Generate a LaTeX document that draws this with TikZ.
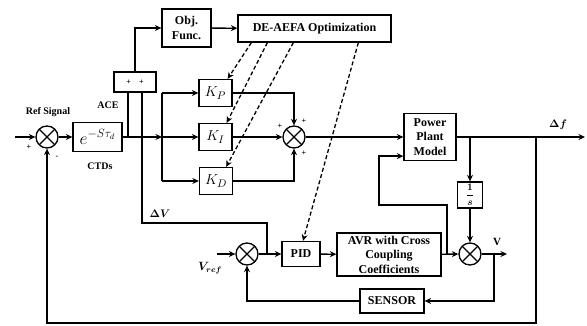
\documentclass[tikz,border=0pt]{standalone}
\usepackage{fontspec}
\setmainfont{Liberation Serif}
\usepackage{amsmath,bm}
\usetikzlibrary{arrows.meta}
\begin{document}
\begin{tikzpicture}[x=1pt,y=-1pt,
 line width=1.3pt,
 >={Stealth[length=6.5pt,width=6pt]},
 blk/.style={draw, inner sep=0pt, align=center, font=\fontsize{12}{14.5}\selectfont\bfseries},
 kbox/.style={draw, inner sep=0pt, minimum width=33pt, minimum height=27pt, font=\fontsize{15}{18}\selectfont},
 sumj/.style={circle, draw, minimum size=22pt, inner sep=0pt,
   path picture={\draw[line width=1.3pt] (path picture bounding box.north west) -- (path picture bounding box.south east)
     (path picture bounding box.north east) -- (path picture bounding box.south west);}},
 lbl/.style={font=\fontsize{10}{12}\selectfont\bfseries, inner sep=0pt},
 sg/.style={font=\fontsize{8}{9}\selectfont\bfseries, inner sep=0pt},
 dsh/.style={->, dash pattern=on 4pt off 2.5pt},
]
\useasboundingbox (0,0) rectangle (587,326);

% blocks
\node[sumj] (s1) at (47,137) {};
\node[blk, minimum width=49pt, minimum height=29pt, font=\fontsize{17}{18}\selectfont] (ctd) at (97.5,137) {$e^{-S\tau_d}$};
\node[blk, minimum width=42pt, minimum height=20pt, font=\fontsize{8}{9}\selectfont\bfseries] (pp) at (135,82) {+\hspace{8pt}+};
\node[blk, minimum width=49pt, minimum height=38pt] (obj) at (186.5,28) {Obj.\\Func.};
\node[blk, minimum width=153pt, minimum height=27pt] (de) at (314.5,28.5) {DE-AEFA Optimization};
\node[kbox] (kp) at (215.5,93) {$K_P$};
\node[kbox] (ki) at (215.5,137) {$K_I$};
\node[kbox] (kd) at (216,181) {$K_D$};
\node[sumj] (s2) at (294,137) {};
\node[blk, minimum width=52pt, minimum height=47pt] (pw) at (430,137) {Power\\Plant\\Model};
\node[blk, minimum width=25pt, minimum height=26pt, font=\fontsize{10}{12}\selectfont] (inv) at (470,195) {$\bm{\dfrac{1}{s}}$};
\node[sumj] (sV) at (470,254) {};
\node[blk, minimum width=104pt, minimum height=43pt] (avr) at (389,254.5) {AVR with Cross\\Coupling\\Coefficients};
\node[blk, minimum width=38pt, minimum height=25pt] (pid) at (301,254) {PID};
\node[sumj] (sR) at (247,254) {};
\node[blk, minimum width=64pt, minimum height=24pt] (sen) at (392,301) {SENSOR};

% coordinates
\coordinate (in1) at (15,137);
\coordinate (sp) at (162,137);
\coordinate (dv1) at (142,223);
\coordinate (dv2) at (267,223);
\coordinate (out) at (585,137);
\coordinate (b1) at (470,137);
\coordinate (b2) at (536,137);
\coordinate (b3) at (536,323);
\coordinate (j) at (447,254);
\coordinate (j2) at (379,205);
\coordinate (pin) at ([yshift=5pt]pw.south west);
\coordinate (vo) at (507,254);
\coordinate (fb) at (494,254);
\coordinate (fb2) at (494,301);
\coordinate (vr) at (217,254);

% connectors
\draw[->] (in1) -- (s1);
\draw[->] (s1) -- (ctd);
\draw[->] (ctd) -- (sp);
\draw (sp |- kp) -- (sp |- kd);
\draw[->] (sp |- kp) -- (kp);
\draw[->] (sp) -- (ki);
\draw[->] (sp |- kd) -- (kd);
\draw ([xshift=-7pt]pp.south) -- ([xshift=-7pt]pp.south |- sp);
\draw ([xshift=7pt]pp.south) -- (dv1) -- (dv2) -- (dv2 |- sR);
\draw[->] (pp.north) |- (obj.west);
\draw[->] (obj) -- (de);
\draw[->] (kp.east) -| (s2.north);
\draw[->] (ki) -- (s2);
\draw[->] (kd.east) -| (s2.south);
\draw[->] (s2) -- (pw);
\draw[->] (pw.east) -- (out);
\draw[->] (b1) -- (inv);
\draw[->] (inv) -- (sV);
\draw[->] (b2) -- (b3) -| (s1.south);
\draw[->] (avr) -- (sV);
\draw[->] (j) -- (j |- j2) -- (j2) -- (j2 |- pin) -- (pin);
\draw[->] (sV) -- (vo);
\draw[->] (fb) -- (fb2) -- (sen);
\draw[->] (sen.west) -| (sR.south);
\draw[->] (vr) -- (sR);
\draw[->] (sR) -- (pid);
\draw[->] (pid) -- (avr);

% dashed optimisation links
\draw[dsh] ([xshift=14pt]de.south west) -- ([xshift=-5pt]kp.north east);
\draw[dsh] ([xshift=30pt]de.south west) -- ([xshift=-6pt]ki.north east);
\draw[dsh] ([xshift=56pt]de.south west) -- ([xshift=-7pt]kd.north east);
\draw[dsh] ([xshift=121pt]de.south west) -- ([xshift=2pt]pid.north);

% labels
\node[lbl] (lref) at (48,112) {Ref Signal};
\node[lbl] (lace) at (108,105) {ACE};
\node[lbl] (lctd) at (100,166) {CTDs};
\node[sg] (p1) at (29,147) {+};
\node[sg] (m1) at (57,157) {-};
\node[sg] (p2) at (280,126) {+};
\node[sg] (p3) at (304,121) {+};
\node[sg] (p4) at (304,153) {+};
\node[lbl, font=\fontsize{11}{12}\selectfont] (ldv) at (160,214) {$\bm{\Delta V}$};
\node[lbl, font=\fontsize{11}{12}\selectfont] (ldf) at (558,125) {$\bm{\Delta f}$};
\node[lbl, font=\fontsize{11}{12}\selectfont\bfseries] (lv) at (497,242) {V};
\node[lbl, font=\fontsize{12}{12}\selectfont] (lvr) at (210,268) {$\bm{V_{ref}}$};
\end{tikzpicture}
\end{document}
